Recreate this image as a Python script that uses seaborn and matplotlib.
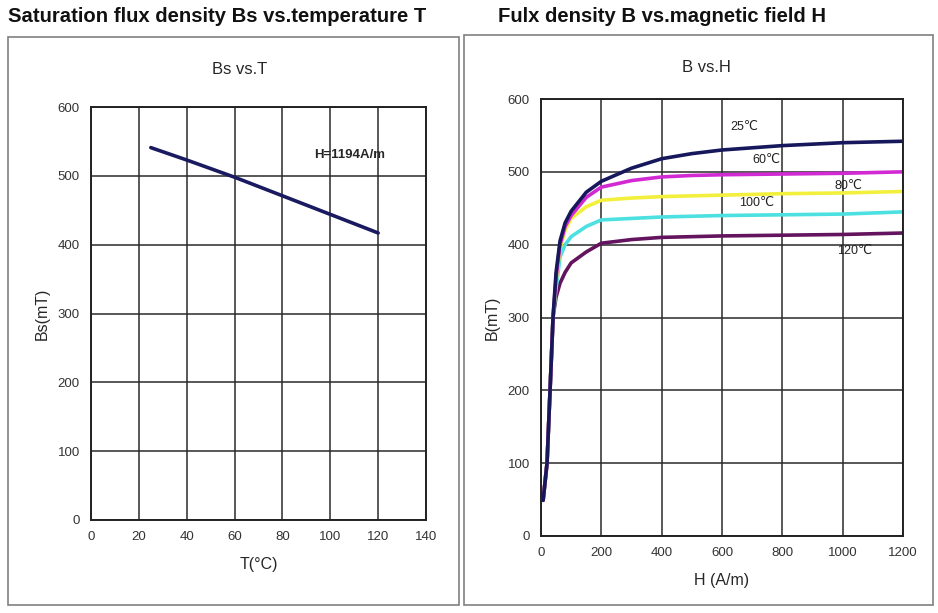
import pandas as pd
import seaborn as sns
import matplotlib.pyplot as plt
from matplotlib.patches import Rectangle

# Bs vs T data
temp_T = [25, 40, 60, 80, 100, 120]
bs_mT = [541, 523, 498, 471, 444, 417]

# B vs H data (one curve per temperature)
field_H = [7, 20, 30, 40, 50, 63, 80, 100, 150, 200, 300, 400, 500, 600, 800, 1000, 1200]
b_25 = [49, 100, 200, 301, 362, 405, 430, 446, 472, 487, 505, 518, 525, 530, 536, 540, 542]
b_60 = [49, 100, 200, 301, 355, 400, 425, 440, 465, 479, 488, 493, 495, 496, 497, 498, 500]
b_80 = [49, 100, 200, 301, 350, 395, 420, 436, 452, 461, 464, 466, 467, 468, 470, 471, 473]
b_100 = [49, 100, 200, 301, 340, 383, 400, 411, 425, 434, 436, 438, 439, 440, 441, 442, 445]
b_120 = [49, 100, 200, 301, 328, 347, 362, 375, 390, 402, 407, 410, 411, 412, 413, 414, 416]
curve_names = ["25℃", "60℃", "80℃", "100℃", "120℃"]
curve_colors = ["#17175c", "#d22ad2", "#f2f03c", "#4ce0e0", "#64145f"]
# label positions (H, B)
label_pos = [(673, 562), (746, 516), (1018, 481), (716, 457), (1041, 391)]

sns.set_style("white")
plt.rcParams["font.family"] = ["Liberation Sans", "DejaVu Sans"]

fig = plt.figure(figsize=(9.38, 6.13), dpi=100)
W, H = 938, 613

# panel frames
fig.patches.append(Rectangle((8 / W, 1 - 605 / H), 451 / W, 568 / H, transform=fig.transFigure,
                             fill=False, edgecolor="#808080", linewidth=1.2))
fig.patches.append(Rectangle((464 / W, 1 - 605 / H), 469 / W, 570 / H, transform=fig.transFigure,
                             fill=False, edgecolor="#808080", linewidth=1.2))

fig.text(8 / W, 1 - 16 / H, "Saturation flux density Bs vs.temperature T", fontsize=14.6,
         fontweight="bold", va="center", ha="left", color="#111111")
fig.text(498 / W, 1 - 16 / H, "Fulx density B vs.magnetic field H", fontsize=14.6,
         fontweight="bold", va="center", ha="left", color="#111111")


def style_axes(ax):
    ax.grid(True, color="#2a2a2a", linewidth=1.1)
    for s in ax.spines.values():
        s.set_color("#222222")
        s.set_linewidth(1.4)
    ax.tick_params(length=0, labelsize=9.5, labelcolor="#333333", pad=8)
    ax.set_axisbelow(True)


# left chart
ax1 = fig.add_axes([91 / W, 1 - 520 / H, 335 / W, 413 / H])
sns.lineplot(x=temp_T, y=bs_mT, ax=ax1, color="#1a1a60", linewidth=2.6)
ax1.set_xlim(0, 140)
ax1.set_ylim(0, 600)
ax1.set_xticks(range(0, 141, 20))
ax1.set_yticks(range(0, 601, 100))
style_axes(ax1)
ax1.set_xlabel("T(°C)", fontsize=11.5, labelpad=10)
ax1.set_ylabel("Bs(mT)", fontsize=11.5, labelpad=6)
ax1.text(108, 530, "H=1194A/m", fontsize=9.5, fontweight="bold", ha="center", va="center")
fig.text(240 / W, 1 - 69 / H, "Bs vs.T", fontsize=12, ha="center", va="center")

# right chart
ax2 = fig.add_axes([541 / W, 1 - 536 / H, 362 / W, 437 / H])
curves = [b_25, b_60, b_80, b_100, b_120]
frames = [pd.DataFrame({"H": field_H, "B": vals, "T": name}) for name, vals in zip(curve_names, curves)]
df = pd.concat(frames, ignore_index=True)
# draw coldest last so the shared steep part shows the dark curves on top
sns.lineplot(data=df, x="H", y="B", hue="T", palette=dict(zip(curve_names, curve_colors)),
             hue_order=curve_names[::-1], ax=ax2, linewidth=2.6, legend=False, sort=False)
ax2.set_xlim(0, 1200)
ax2.set_ylim(0, 600)
ax2.set_xticks(range(0, 1201, 200))
ax2.set_yticks(range(0, 601, 100))
style_axes(ax2)
ax2.set_xlabel("H (A/m)", fontsize=11.5, labelpad=10)
ax2.set_ylabel("B(mT)", fontsize=11.5, labelpad=6)
for name, (hx, by) in zip(curve_names, label_pos):
    ax2.text(hx, by, name, fontsize=9, ha="center", va="center", color="#222222")
fig.text(706 / W, 1 - 68 / H, "B vs.H", fontsize=12, ha="center", va="center")

fig.savefig("out.png", dpi=100, facecolor="white")
